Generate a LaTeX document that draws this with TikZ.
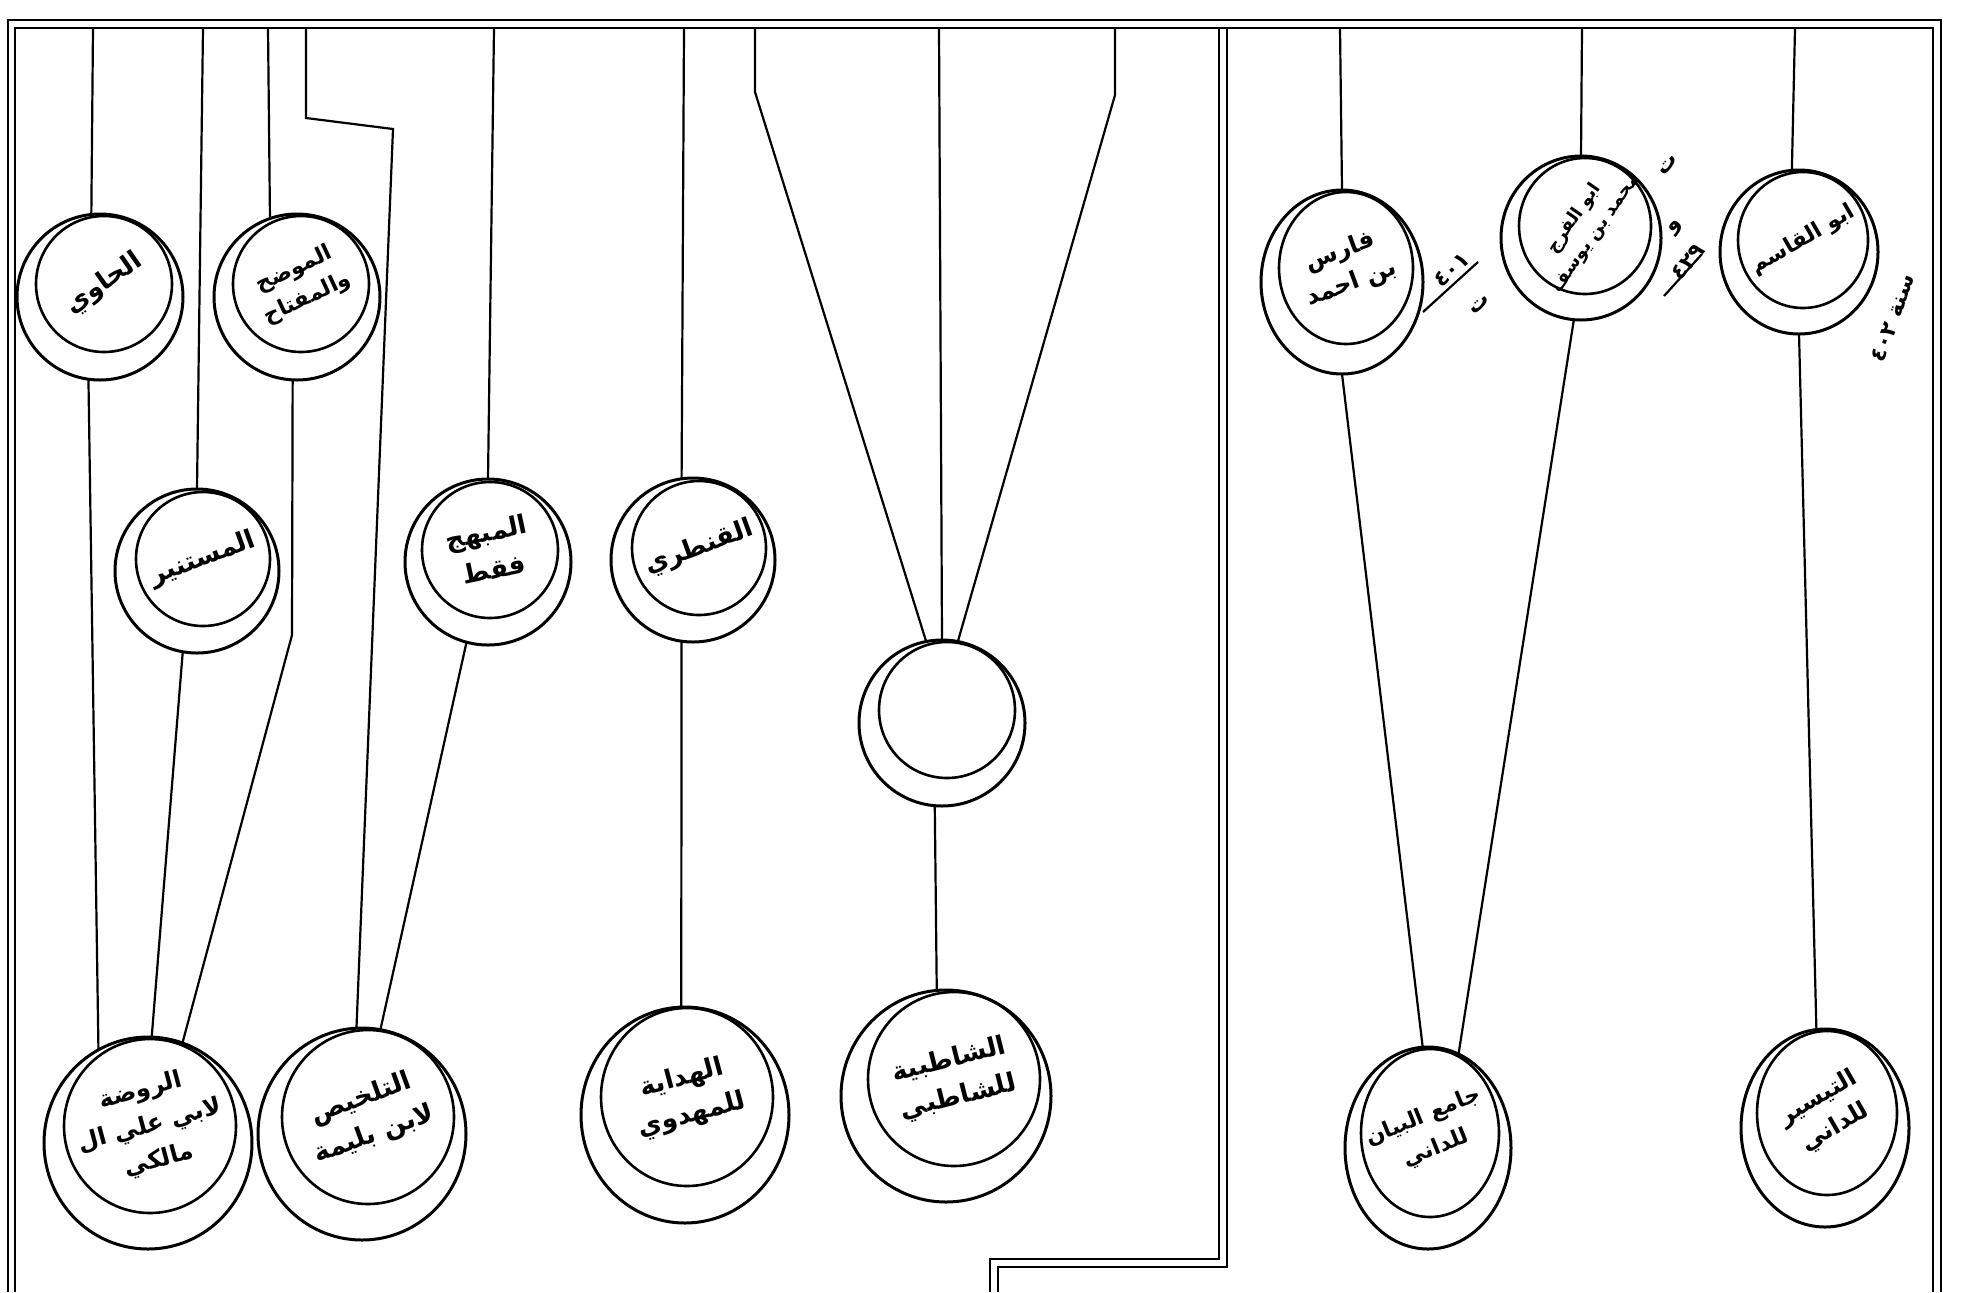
\documentclass[tikz,border=0pt]{standalone}
\usepackage{fontspec}
\newfontfamily\arabicfont[Script=Arabic]{DejaVu Sans}
\TeXXeTstate=1
\usetikzlibrary{shapes.geometric,calc}

\begin{document}
\begin{tikzpicture}[x=0.5pt,y=-0.5pt,
        medal/.style={ellipse,draw,line width=1.5pt,inner sep=0pt,outer sep=0pt},
        inmedal/.style={ellipse,draw,line width=1.3pt,inner sep=0pt,outer sep=0pt},
        title/.style={font=\arabicfont\bfseries\fontsize{13}{19}\selectfont,align=center,inner sep=0pt},
        small title/.style={title,font=\arabicfont\bfseries\fontsize{10}{14}\selectfont},
        note/.style={font=\arabicfont\bfseries\fontsize{11}{13}\selectfont,inner sep=0pt},
        link/.style={line width=1.1pt},
        border/.style={line width=1.4pt}]
    \useasboundingbox (0,0) rectangle (1980,1292);
    %Frame
    \draw[border] (8,1292) -- (8,20) -- (1941,20) -- (1941,1292);
    \draw[border] (15,1292) -- (15,28) -- (1933,28) -- (1933,1292);
    \draw[border] (1219,28) -- (1219,1259) -- (990,1259) -- (990,1292);
    \draw[border] (1227,28) -- (1227,1267) -- (998,1267) -- (998,1292);
    %Outer circles
    \node[medal,minimum width=83pt,minimum height=83pt] (hawi) at (100,297) {};
    \node[medal,minimum width=83pt,minimum height=83pt] (muwaddih) at (297,297) {};
    \node[medal,minimum width=82pt,minimum height=82pt] (mustanir) at (197,571) {};
    \node[medal,minimum width=83pt,minimum height=83pt] (kashf) at (488,562) {};
    \node[medal,minimum width=82pt,minimum height=82pt] (qantari) at (693,560) {};
    \node[medal,minimum width=83pt,minimum height=83pt] (blank) at (942,723) {};
    \node[medal,minimum width=104pt,minimum height=106pt] (rawda) at (148,1143) {};
    \node[medal,minimum width=104pt,minimum height=106pt] (talkhis) at (362,1134) {};
    \node[medal,minimum width=104pt,minimum height=108pt] (hidaya) at (685,1115) {};
    \node[medal,minimum width=105pt,minimum height=106pt] (shatibiya) at (946,1096) {};
    \node[medal,minimum width=81pt,minimum height=92pt] (faris) at (1342,282) {};
    \node[medal,minimum width=80pt,minimum height=82pt] (faraj) at (1581,238) {};
    \node[medal,minimum width=79pt,minimum height=82pt] (qasim) at (1799,252) {};
    \node[medal,minimum width=83pt,minimum height=101pt] (jami) at (1428,1148) {};
    \node[medal,minimum width=84pt,minimum height=99pt] (taysir) at (1825,1128) {};
    %Inner circles
    \node[inmedal,minimum width=68pt,minimum height=68pt] (hawi-in) at ($(hawi)+(4,-13)$) {};
    \node[inmedal,minimum width=68pt,minimum height=68pt] (muwaddih-in) at ($(muwaddih)+(4,-13)$) {};
    \node[inmedal,minimum width=67pt,minimum height=67pt] (mustanir-in) at ($(mustanir)+(6,-12)$) {};
    \node[inmedal,minimum width=68pt,minimum height=68pt] (kashf-in) at ($(kashf)+(2,-12)$) {};
    \node[inmedal,minimum width=67pt,minimum height=67pt] (qantari-in) at ($(qantari)+(6,-12)$) {};
    \node[inmedal,minimum width=68pt,minimum height=68pt] (blank-in) at ($(blank)+(5,-13)$) {};
    \node[inmedal,minimum width=86pt,minimum height=87pt] (rawda-in) at ($(rawda)+(2,-17)$) {};
    \node[inmedal,minimum width=86pt,minimum height=87pt] (talkhis-in) at ($(talkhis)+(6,-17)$) {};
    \node[inmedal,minimum width=86pt,minimum height=89pt] (hidaya-in) at ($(hidaya)+(2,-18)$) {};
    \node[inmedal,minimum width=86pt,minimum height=87pt] (shatibiya-in) at ($(shatibiya)+(8,-17)$) {};
    \node[inmedal,minimum width=67pt,minimum height=76pt] (faris-in) at ($(faris)+(4,-14)$) {};
    \node[inmedal,minimum width=66pt,minimum height=68pt] (faraj-in) at ($(faraj)+(4,-12)$) {};
    \node[inmedal,minimum width=65pt,minimum height=68pt] (qasim-in) at ($(qasim)+(4,-12)$) {};
    \node[inmedal,minimum width=69pt,minimum height=84pt] (jami-in) at ($(jami)+(2,-15)$) {};
    \node[inmedal,minimum width=70pt,minimum height=82pt] (taysir-in) at ($(taysir)+(2,-15)$) {};
    %Names
    \node[title,rotate=35] (hawi-t) at (hawi-in) {\beginR الحاوي\endR};
    \node[small title,font=\arabicfont\bfseries\fontsize{11}{16}\selectfont,rotate=25] (muwaddih-t) at (muwaddih-in) {\beginR الموضح\endR\\\beginR والمفتاح\endR};
    \node[title,rotate=20] (mustanir-t) at (mustanir-in) {\beginR المستنير\endR};
    \node[title,rotate=12] (kashf-t) at (kashf-in) {\beginR المبهج\endR\\\beginR فقط\endR};
    \node[title,rotate=20] (qantari-t) at (qantari-in) {\beginR القنطري\endR};
    \node[title,font=\arabicfont\bfseries\fontsize{12}{18}\selectfont,rotate=15] (rawda-t) at (rawda-in) {\beginR الروضة\endR\\\beginR لابي علي ال\endR\\\beginR مالكي\endR};
    \node[title,rotate=20] (talkhis-t) at (talkhis-in) {\beginR التلخيص\endR\\\beginR لابن بليمة\endR};
    \node[title,rotate=15] (hidaya-t) at (hidaya-in) {\beginR الهداية\endR\\\beginR للمهدوي\endR};
    \node[title,rotate=14] (shatibiya-t) at (shatibiya-in) {\beginR الشاطبية\endR\\\beginR للشاطبي\endR};
    \node[small title,font=\arabicfont\bfseries\fontsize{12}{17}\selectfont,rotate=20] (faris-t) at (faris-in) {\beginR فارس\endR\\\beginR بن احمد\endR};
    \node[small title,font=\arabicfont\bfseries\fontsize{9}{13}\selectfont,rotate=55] (faraj-t) at (faraj-in) {\beginR ابو الفرج\endR\\\beginR محمد بن يوسف\endR};
    \node[small title,font=\arabicfont\bfseries\fontsize{11}{14}\selectfont,rotate=30] (qasim-t) at (qasim-in) {\beginR ابو القاسم\endR};
    \node[small title,font=\arabicfont\bfseries\fontsize{11}{17}\selectfont,rotate=22] (jami-t) at (jami-in) {\beginR جامع البيان\endR\\\beginR للداني\endR};
    \node[small title,font=\arabicfont\bfseries\fontsize{12}{17}\selectfont,rotate=30] (taysir-t) at (taysir-in) {\beginR التيسير\endR\\\beginR للداني\endR};
    %Ends at the top border
    \coordinate (t1) at (93,28);
    \coordinate (t2) at (203,28);
    \coordinate (t3) at (268,28);
    \coordinate (t4) at (306,28);
    \coordinate (j1) at (306,118);
    \coordinate (j2) at (393,129);
    \coordinate (t5) at (494,28);
    \coordinate (t6) at (684,28);
    \coordinate (t7) at (755,28);
    \coordinate (k7) at (755,92);
    \coordinate (t8) at (939,28);
    \coordinate (t9) at (1115,28);
    \coordinate (k9) at (1115,95);
    \coordinate (t10) at (1340,28);
    \coordinate (t11) at (1582,28);
    \coordinate (t12) at (1795,28);
    \coordinate (bend) at (292,635);
    %Lines
    \draw[link] (t1) -- (hawi.96);
    \draw[link] (t2) -- (mustanir.north);
    \draw[link] (t3) -- (muwaddih.109);
    \draw[link] (t4) -- (j1) -- (j2) -- (talkhis.93);
    \draw[link] (t5) -- (kashf.north);
    \draw[link] (t6) -- (qantari.98);
    \draw[link] (t7) -- (k7) -- (blank.101);
    \draw[link] (t8) -- (blank.north);
    \draw[link] (t9) -- (k9) -- (blank.79);
    \draw[link] (t10) -- (faris.north);
    \draw[link] (t11) -- (faraj.north);
    \draw[link] (t12) -- (qasim.95);
    \draw[link] (hawi.262) -- (rawda.118);
    \draw[link] (mustanir.260) -- (rawda.88);
    \draw[link] (muwaddih.267) -- (bend) -- (rawda.71);
    \draw[link] (kashf.255) -- (talkhis.80);
    \draw[link] (qantari.262) -- (hidaya.92);
    \draw[link] (blank.265) -- (shatibiya.95);
    \draw[link] (faris.south) -- (jami.93);
    \draw[link] (faraj.265) -- (jami.72);
    \draw[link] (qasim.south) -- (taysir.95);
    %Dates
    \coordinate (d1a) at (1423,312);
    \coordinate (d1b) at (1478,262);
    \draw[link] (d1a) -- (d1b);
    \node[note,rotate=42] (d1) at (1452,270) {٤٠١};
    \node[note,rotate=42] (d1c) at (1480,305) {\beginR ت\endR};
    \coordinate (d2a) at (1664,296);
    \coordinate (d2b) at (1702,254);
    \draw[link] (d2a) -- (d2b);
    \node[note,rotate=50] (d2) at (1688,262) {٤٢٩};
    \node[note,rotate=50] (d2c) at (1676,228) {\beginR و\endR};
    \node[note,rotate=50] (d2d) at (1668,165) {\beginR ت\endR};
    \node[note,rotate=70] (d3) at (1893,318) {\beginR سنة ٤٠٢\endR};
\end{tikzpicture}
\end{document}
